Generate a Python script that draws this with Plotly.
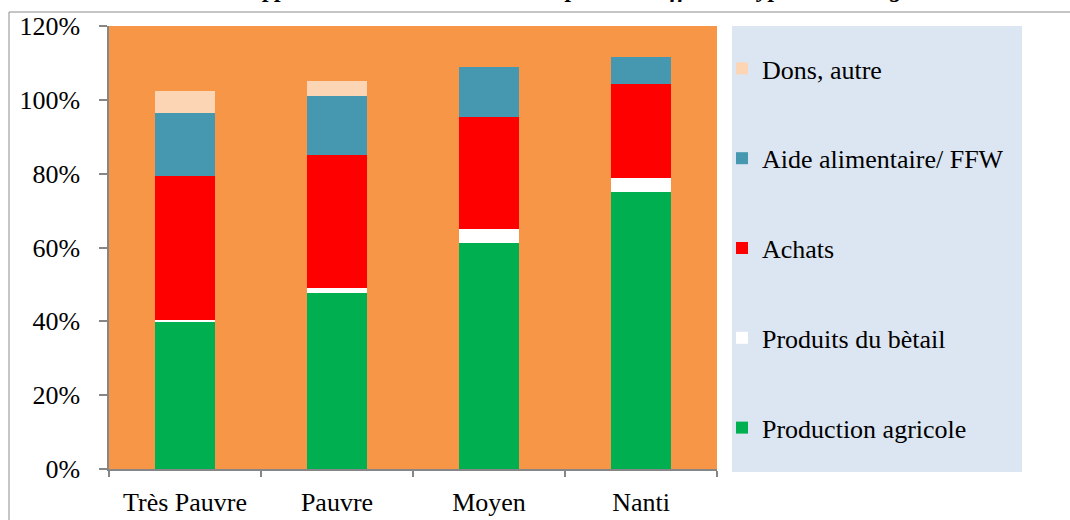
import plotly.graph_objects as go

# Groupes de ménages et parts des sources d'approvisionnement (%)
categories = ["Très Pauvre", "Pauvre", "Moyen", "Nanti"]
production_agricole = [39.7, 47.7, 61.3, 74.9]
produits_betail = [0.6, 1.3, 3.7, 3.9]
achats = [39.1, 36.0, 30.3, 25.6]
aide_alimentaire = [17.1, 16.1, 13.7, 7.1]
dons_autre = [6.0, 4.1, 0.0, 0.0]

series = [
    ("Production agricole", production_agricole, "#00B050"),
    ("Produits du bètail", produits_betail, "#FFFFFF"),
    ("Achats", achats, "#FF0000"),
    ("Aide alimentaire/ FFW", aide_alimentaire, "#4598AF"),
    ("Dons, autre", dons_autre, "#FCD5B5"),
]

FONT = "Liberation Serif"
W, H = 1070, 520
L, R, T, B = 109, 353, 26, 51
PW, PH = W - L - R, H - T - B


def px(x):
    return (x - L) / PW


def py(y):
    return (H - B - y) / PH


fig = go.Figure()
n = len(series)
for i, (name, vals, color) in enumerate(series):
    fig.add_trace(go.Bar(
        x=categories, y=vals, name=name, legendgroup=name,
        legendrank=n - i,
        marker=dict(color=color, line=dict(width=0)),
    ))

fig.update_layout(
    width=W, height=H,
    margin=dict(l=L, r=R, t=T, b=B, autoexpand=False),
    barmode="stack", bargap=0.6,
    plot_bgcolor="#F79646", paper_bgcolor="white",
    font=dict(family=FONT, size=26, color="black"),
    showlegend=True,
    legend=dict(
        x=px(722), xanchor="left", y=py(45), yanchor="top",
        traceorder="grouped", tracegroupgap=53,
        bgcolor="rgba(0,0,0,0)", font=dict(family=FONT, size=26),
    ),
    xaxis=dict(
        showline=True, linecolor="#868686", linewidth=1.5, automargin=False,
        ticks="outside", tickson="boundaries", ticklen=6, tickcolor="#868686",
        tickwidth=1.5, showgrid=False, ticklabelstandoff=9,
    ),
    yaxis=dict(
        range=[0, 120], dtick=20, ticksuffix="%", automargin=False,
        showline=True, linecolor="#868686", linewidth=1.5,
        ticks="outside", ticklen=8, tickcolor="#868686", tickwidth=1.5,
        showgrid=False, zeroline=False, ticklabelstandoff=14,
    ),
    shapes=[
        # cadre extérieur
        dict(type="rect", xref="paper", yref="paper",
             x0=px(9), x1=px(1080), y0=py(540), y1=py(12),
             line=dict(color="#8C8C8C", width=1), fillcolor="rgba(0,0,0,0)",
             layer="below"),
        # fond de la légende
        dict(type="rect", xref="paper", yref="paper",
             x0=px(732), x1=px(1022), y0=py(472), y1=py(26),
             line=dict(width=0), fillcolor="#DCE6F2", layer="below"),
    ],
    annotations=[
        dict(text="<b><i>Sources d’approvisionnement alimentaire pour les différents types de ménages</i></b>",
             xref="paper", yref="paper", x=px(535), y=py(4),
             xanchor="center", yanchor="bottom", showarrow=False,
             font=dict(family=FONT, size=24, color="black")),
    ],
)

fig.write_html("out.html")
